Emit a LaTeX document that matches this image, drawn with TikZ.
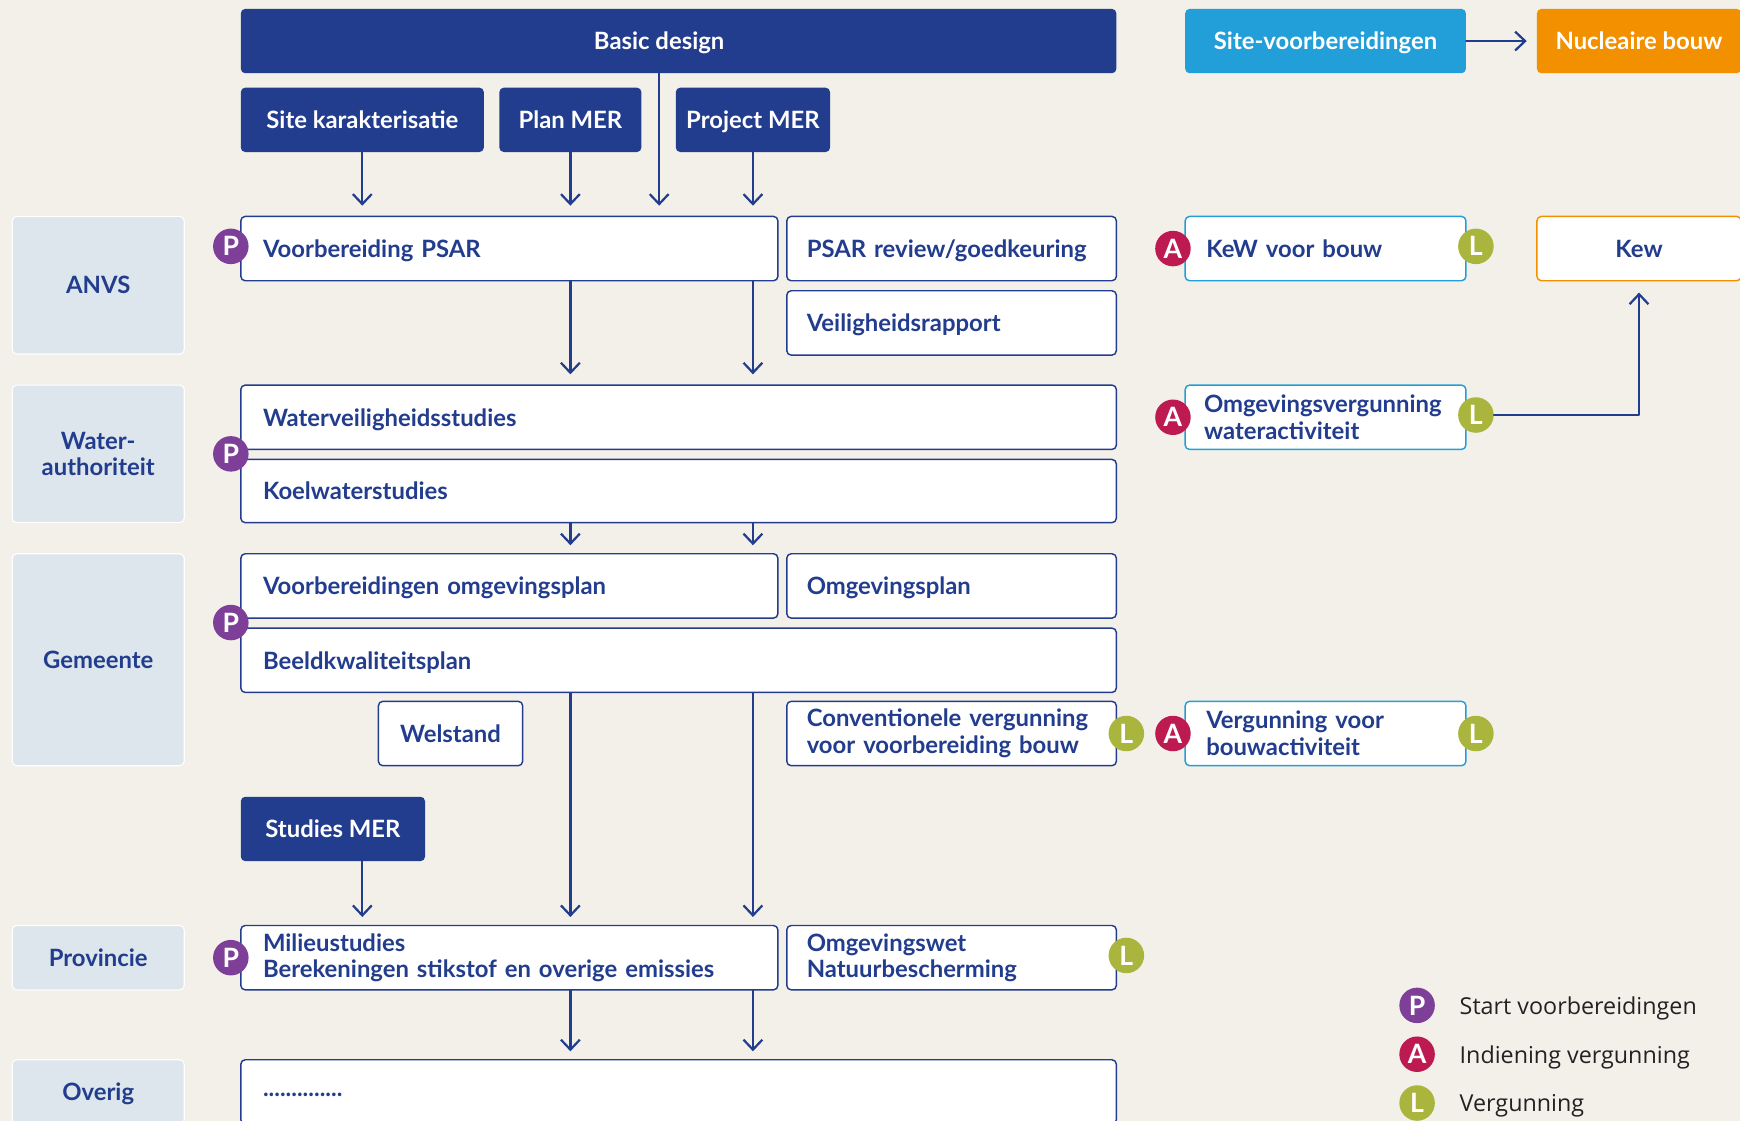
\documentclass[tikz,border=0pt]{standalone}
\usepackage{fontspec}
\setmainfont{Lato}
\newfontfamily\legendfamily{Open Sans}
\usetikzlibrary{arrows.meta,positioning}
\definecolor{navy}{HTML}{223C8E}
\definecolor{skyblue}{HTML}{229FD9}
\definecolor{orangebox}{HTML}{F39000}
\definecolor{purplebadge}{HTML}{7E3F98}
\definecolor{redbadge}{HTML}{BE1A52}
\definecolor{olivebadge}{HTML}{A9B53D}
\definecolor{lanegrey}{HTML}{DCE6EC}
\definecolor{paper}{HTML}{F3F0E9}
\definecolor{legendgrey}{HTML}{222222}
\newcommand\boxfont{\fontsize{21.5}{24}\selectfont\bfseries}
\newcommand\badgefont{\fontsize{24}{24}\selectfont\bfseries}
\newcommand\legendfont{\legendfamily\fontsize{21}{24}\selectfont}
\tikzset{
  base/.style={rounded corners=4pt,minimum height=58pt,inner ysep=0pt,text depth=0pt,font=\boxfont},
  twolines/.style={text depth={}},
  darkbox/.style={base,fill=navy,text=white,inner xsep=0pt},
  wbox/.style={base,draw=navy,line width=1.3pt,fill=white,text=navy,inner xsep=20pt,align=left},
  permitbox/.style={wbox,draw=skyblue},
  lane/.style={base,fill=lanegrey,draw=white,line width=1pt,text=navy,minimum width=155pt,align=center},
  badge/.style={circle,minimum size=32pt,inner sep=0pt,text depth=0pt,text=white,font=\badgefont},
  pbadge/.style={badge,fill=purplebadge},
  abadge/.style={badge,fill=redbadge},
  lbadge/.style={badge,fill=olivebadge},
  legendtext/.style={inner sep=0pt,text depth=0pt,font=\legendfont,text=legendgrey},
  arr/.style={-{Straight Barb[length=9pt,width=17pt]},navy,line width=2pt,shorten >=9pt},
}
\begin{document}
\begin{tikzpicture}[x=1pt,y=-1pt,line join=round,line cap=round]
\clip (0,0) rectangle (1568,1010);
\fill[paper] (0,0) rectangle (1568,1010);
% top row
\node[darkbox,minimum width=789pt] (basic) at (611.5,37) {};
\node[text=white,font=\boxfont,text depth=0pt,inner sep=0pt] (bdlabel) at (594,37) {Basic design};
\node[darkbox,fill=skyblue,minimum width=253pt] (sitevb) at (1194.5,37) {Site-voorbereidingen};
\node[darkbox,fill=orangebox,minimum width=184pt] (nucl) at (1477,37) {Nucleaire bouw};
\node[darkbox,minimum width=219pt] (sitek) at (326.5,108) {Site karakterisatie};
\node[darkbox,minimum width=128pt] (planmer) at (514,108) {Plan MER};
\node[darkbox,minimum width=139pt] (projmer) at (678.5,108) {Project MER};
% lanes
\node[lane,minimum height=124pt] (anvs) at (88.5,257) {ANVS};
\node[lane,twolines,minimum height=124pt] (water) at (88.5,409) {Water-\\authoriteit};
\node[lane,minimum height=191pt] (gem) at (88.5,594.5) {Gemeente};
\node[lane] (prov) at (88.5,863) {Provincie};
\node[lane] (overig) at (88.5,984) {Overig};
% ANVS
\node[wbox,text width=444pt] (psar) at (459,224) {Voorbereiding PSAR};
\node[wbox,inner xsep=18pt,text width=261pt] (psarrev) at (857.5,224) {PSAR review/goedkeuring};
\node[wbox,inner xsep=18pt,text width=261pt] (veilig) at (857.5,291) {Veiligheidsrapport};
\node[permitbox,inner xsep=19pt,text width=215pt] (kewvb) at (1194.5,224) {KeW voor bouw};
\node[wbox,draw=orangebox,inner xsep=0pt,minimum width=184pt,align=center] (kew) at (1477,224) {Kew};
% water
\node[wbox,text width=749pt] (wvs) at (611.5,376) {Waterveiligheidsstudies};
\node[wbox,text width=749pt,minimum height=57pt] (koel) at (611.5,442.5) {Koelwaterstudies};
\node[permitbox,twolines,inner xsep=17pt,text width=219pt] (omgwater) at (1194.5,376) {Omgevingsvergunning\\wateractiviteit};
% gemeente
\node[wbox,text width=444pt] (vbomg) at (459,528) {Voorbereidingen omgevingsplan};
\node[wbox,inner xsep=18pt,text width=261pt] (omgplan) at (857.5,528) {Omgevingsplan};
\node[wbox,text width=749pt] (beeld) at (611.5,595) {Beeldkwaliteitsplan};
\node[wbox,inner xsep=0pt,minimum width=130pt,align=center] (welstand) at (406,661) {Welstand};
\node[wbox,twolines,inner xsep=18pt,text width=261pt] (conv) at (857.5,661) {Conventionele vergunning\\voor voorbereiding bouw};
\node[permitbox,twolines,inner xsep=19pt,text width=215pt] (vergbouw) at (1194.5,661) {Vergunning voor\\bouwactiviteit};
\node[darkbox,minimum width=166pt] (studmer) at (300,747) {Studies MER};
% provincie, overig
\node[wbox,twolines,text width=444pt] (milieu) at (459,863) {Milieustudies\\Berekeningen stikstof en overige emissies};
\node[wbox,twolines,inner xsep=18pt,text width=261pt] (omgwet) at (857.5,863) {Omgevingswet\\Natuurbescherming};
\node[wbox,text width=749pt,text height=9pt] (rest) at (611.5,984) {..............};
% badges
\node[pbadge] (p1) at (208,222) {P};
\node[pbadge] (p2) at (208,409) {P};
\node[pbadge] (p3) at (208,561) {P};
\node[pbadge] (p4) at (208,863) {P};
\node[abadge] (a1) at (1057,224) {A};
\node[lbadge] (l1) at (1330,222) {L};
\node[abadge] (a2) at (1057,376) {A};
\node[lbadge] (l2) at (1330,374) {L};
\node[lbadge] (l3) at (1015,661) {L};
\node[abadge] (a3) at (1057,661) {A};
\node[lbadge] (l4) at (1330,661) {L};
\node[lbadge] (l5) at (1015,861) {L};
% arrows
\draw[arr] (sitevb.east) -- (nucl.west);
\draw[arr] (sitek.south) -- (sitek.south |- psar.north);
\draw[arr] (planmer.south) -- (planmer.south |- psar.north);
\draw[arr] (bdlabel |- basic.south) -- (bdlabel |- psar.north);
\draw[arr] (projmer.south) -- (projmer.south |- psar.north);
\draw[arr] (psar.south -| planmer) -- (wvs.north -| planmer);
\draw[arr] (psar.south -| projmer) -- (wvs.north -| projmer);
\draw[arr,shorten >=7pt] (koel.south -| planmer) -- (vbomg.north -| planmer);
\draw[arr,shorten >=7pt] (koel.south -| projmer) -- (vbomg.north -| projmer);
\draw[arr,shorten >=7pt] (beeld.south -| planmer) -- (milieu.north -| planmer);
\draw[arr,shorten >=7pt] (beeld.south -| projmer) -- (milieu.north -| projmer);
\draw[arr,shorten >=7pt] (studmer.south -| sitek) -- (milieu.north -| sitek);
\draw[arr,shorten >=7pt] (milieu.south -| planmer) -- (rest.north -| planmer);
\draw[arr,shorten >=7pt] (milieu.south -| projmer) -- (rest.north -| projmer);
\draw[arr,shorten >=10pt] (l2.east) -| (kew.south);
% legend
\node[pbadge] (legp) at (1277,906) {P};
\node[abadge] (lega) at (1277,950) {A};
\node[lbadge] (legl) at (1277,994) {L};
\node[legendtext,right=22pt of legp] {Start voorbereidingen};
\node[legendtext,right=22pt of lega] {Indiening vergunning};
\node[legendtext,right=22pt of legl] {Vergunning};
\end{tikzpicture}
\end{document}
